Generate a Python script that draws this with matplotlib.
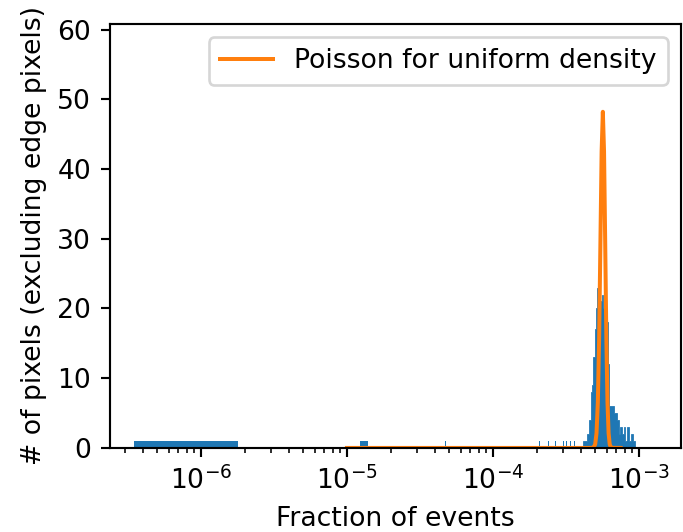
import numpy as np
import matplotlib
matplotlib.use("Agg")
import matplotlib.pyplot as plt

# isolated low-fraction bins (left edge, right edge, count)
low_left = [3.47e-7, 1.23e-5, 4.70e-5, 2.055e-4, 2.375e-4, 2.675e-4, 3.01e-4, 3.18e-4, 3.355e-4, 3.575e-4]
low_right = [1.78e-6, 1.40e-5, 4.80e-5, 2.085e-4, 2.41e-4, 2.715e-4, 3.055e-4, 3.225e-4, 3.405e-4, 3.625e-4]
low_count = [1, 1, 1, 1, 1, 1, 1, 1, 1, 1]

# main bump of the histogram (bin edges and counts)
peak_edges = [4.155e-4, 4.384e-4, 4.545e-4, 4.691e-4, 4.788e-4, 4.864e-4, 4.996e-4,
              5.099e-4, 5.181e-4, 5.297e-4, 5.407e-4, 5.553e-4, 5.695e-4, 5.849e-4,
              6.066e-4, 6.162e-4, 6.260e-4, 6.400e-4, 6.773e-4, 7.035e-4, 7.261e-4,
              7.411e-4, 7.612e-4, 7.894e-4, 8.057e-4, 8.237e-4, 8.316e-4, 8.501e-4,
              8.814e-4, 9.141e-4, 9.389e-4]
peak_count = [1, 2, 4, 8, 9, 13, 17, 20, 23, 20, 21, 22, 20, 19, 18, 12, 6,
              6, 5, 4, 2, 3, 2, 3, 1, 0, 3, 1, 2, 1]

# Poisson curve for uniform density
poisson_frac = [1.0e-5, 4.50e-4, 4.80e-4, 4.907e-4, 5.015e-4, 5.122e-4, 5.23e-4, 5.337e-4,
                5.445e-4, 5.552e-4, 5.66e-4, 5.767e-4, 5.875e-4, 5.982e-4, 6.09e-4,
                6.197e-4, 6.305e-4, 6.412e-4, 6.52e-4, 7.5e-4]
poisson_count = [0.0, 0.0, 0.016, 0.106, 0.535, 2.12, 6.52, 15.65, 29.2, 42.5, 48.2,
                 42.5, 29.2, 15.65, 6.52, 2.12, 0.535, 0.106, 0.016, 0.0]

dpi = 192
fig = plt.figure(figsize=(683 / dpi, 532 / dpi), dpi=dpi)
ax = fig.add_axes([0.161, 0.158, 0.836, 0.797])

widths = [r - l for l, r in zip(low_left, low_right)]
ax.bar(low_left, low_count, width=widths, align='edge', color='C0', linewidth=0)
ax.stairs(peak_count, peak_edges, fill=True, facecolor='C0', edgecolor='C0', linewidth=0.3)
ax.plot(poisson_frac, poisson_count, color='C1', label='Poisson for uniform density')

ax.set_xscale('log')
ax.set_xlim(2.38e-7, 1.94e-3)
ax.set_ylim(0, 60.8)
ax.set_xlabel('Fraction of events')
ax.set_ylabel('# of pixels (excluding edge pixels)')
ax.legend(loc='upper right')

fig.savefig('out.png', dpi=dpi)
